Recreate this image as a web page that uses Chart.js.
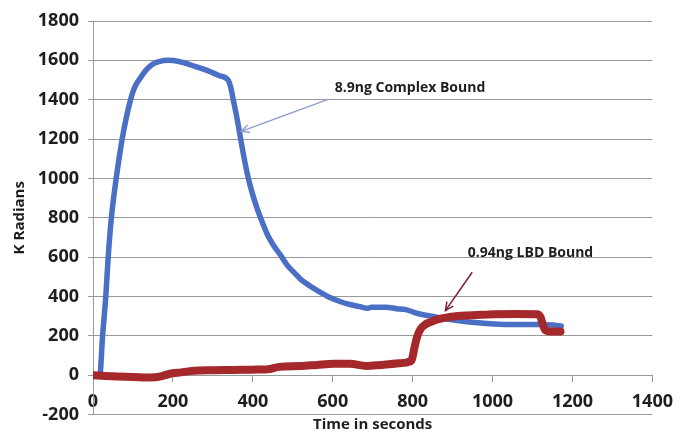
<!DOCTYPE html>
<html><head><meta charset="utf-8">
<style>html,body{margin:0;padding:0;background:#fff}#wrap{width:683px;height:437px}</style>
<script src="https://cdn.jsdelivr.net/npm/chart.js@4.4.1/dist/chart.umd.min.js"></script>
</head><body><div id="wrap"><canvas id="c" width="683" height="437"></canvas></div>
<script>
// ---- data ----
const xTickValues = [0, 200, 400, 600, 800, 1000, 1200, 1400];
const yTickValues = [-200, 0, 200, 400, 600, 800, 1000, 1200, 1400, 1600, 1800];

const complexTime = [0, 17, 24, 32, 38, 46, 58, 73, 84, 94, 100, 108, 120, 135, 149, 165, 190, 215, 240, 265, 290, 315, 338, 345, 351, 360, 367, 379, 390, 400, 412, 425, 437, 450, 470, 485, 503, 520, 544, 570, 593, 620, 643, 668, 688, 697, 715, 733, 760, 783, 805, 824, 848, 881, 920, 964, 1005, 1046, 1085, 1120, 1150, 1172];
const complexValues = [0, 0, 200, 400, 600, 800, 1000, 1200, 1315, 1400, 1440, 1478, 1515, 1555, 1580, 1594, 1600, 1594, 1580, 1563, 1545, 1523, 1500, 1460, 1400, 1310, 1230, 1095, 990, 915, 840, 770, 712, 665, 608, 562, 522, 487, 452, 420, 395, 373, 359, 348, 340, 345, 345, 345, 338, 333, 318, 308, 300, 286, 275, 266, 260, 257, 257, 257, 255, 250];

const lbdTime = [0, 30, 60, 100, 145, 170, 190, 220, 252, 300, 350, 400, 437, 466, 519, 560, 602, 643, 684, 720, 766, 791, 798, 805, 812, 820, 832, 845, 860, 890, 922, 960, 1005, 1060, 1111, 1120, 1126, 1132, 1145, 1170];
const lbdValues = [0, -4, -7, -9, -12, -6, 6, 14, 22, 25, 26, 28, 30, 42, 46, 52, 58, 58, 47, 52, 60, 68, 80, 145, 200, 235, 258, 270, 282, 295, 302, 306, 310, 311, 310, 295, 255, 228, 222, 222];

const seriesNames = ['8.9ng Complex Bound', '0.94ng LBD Bound'];
const xTitle = 'Time in seconds';
const yTitle = 'K Radians';

// annotation anchors in data units: [label point], [arrow start], [arrow end]
const complexNoteLabel = [605, 1460];
const complexNoteArrow = [[590, 1403], [371, 1239]];
const lbdNoteLabel = [938, 621];
const lbdNoteArrow = [[949, 523], [882, 328]];

// ---- build ----
const toPts = (t, v) => t.map((tt, i) => ({x: tt, y: v[i]}));
const FONT = "'Open Sans', 'DejaVu Sans', sans-serif";
const plain = v => String(v);

const annoPlugin = {
  id: 'annos',
  afterDatasetsDraw(chart) {
    const {ctx, scales: {x, y}} = chart;
    const notes = [
      {text: seriesNames[0], label: complexNoteLabel, arrow: complexNoteArrow, color: '#8d9fca'},
      {text: seriesNames[1], label: lbdNoteLabel, arrow: lbdNoteArrow, color: '#7d1f2c'}
    ];
    ctx.save();
    notes.forEach(n => {
      const sx = x.getPixelForValue(n.arrow[0][0]), sy = y.getPixelForValue(n.arrow[0][1]);
      const ex = x.getPixelForValue(n.arrow[1][0]), ey = y.getPixelForValue(n.arrow[1][1]);
      ctx.strokeStyle = n.color;
      ctx.lineWidth = 1.5;
      ctx.beginPath(); ctx.moveTo(sx, sy); ctx.lineTo(ex, ey); ctx.stroke();
      const ang = Math.atan2(sy - ey, sx - ex);
      const L = 9, w = 0.45;
      ctx.beginPath();
      ctx.moveTo(ex + L * Math.cos(ang + w), ey + L * Math.sin(ang + w));
      ctx.lineTo(ex, ey);
      ctx.lineTo(ex + L * Math.cos(ang - w), ey + L * Math.sin(ang - w));
      ctx.stroke();
      ctx.fillStyle = '#1e1e1e';
      ctx.font = "bold 14px " + FONT;
      ctx.textAlign = 'left';
      ctx.textBaseline = 'middle';
      ctx.fillText(n.text, x.getPixelForValue(n.label[0]), y.getPixelForValue(n.label[1]));
    });
    ctx.restore();
  }
};

new Chart(document.getElementById('c'), {
  type: 'line',
  data: {
    datasets: [
      {label: seriesNames[1], data: toPts(lbdTime, lbdValues), borderColor: '#a5282b', backgroundColor: '#a5282b',
       borderWidth: 8, pointRadius: 0, cubicInterpolationMode: 'monotone', order: 1, borderCapStyle: 'round', borderJoinStyle: 'round'},
      {label: seriesNames[0], data: toPts(complexTime, complexValues), borderColor: '#4a6fc4', backgroundColor: '#4a6fc4',
       borderWidth: 5.5, pointRadius: 0, cubicInterpolationMode: 'monotone', order: 2, borderCapStyle: 'round', borderJoinStyle: 'round'}
    ]
  },
  options: {
    responsive: false,
    animation: false,
    devicePixelRatio: 1,
    layout: {padding: {left: 0, right: 23, top: 21, bottom: 0}},
    plugins: {
      legend: {display: false},
      tooltip: {enabled: false},
      title: {display: true, position: 'bottom', text: xTitle, fullSize: false, color: '#1e1e1e',
              font: {family: FONT, size: 15, weight: 'bold'}, padding: {top: 1.5, bottom: 3}}
    },
    scales: {
      x: {
        type: 'linear', position: {y: 0}, min: 0, max: 1400,
        afterBuildTicks: s => { s.ticks = xTickValues.map(v => ({value: v})); },
        afterFit: s => { s.height = 0; },
        grid: {display: true, drawOnChartArea: false, drawTicks: true, tickLength: 6, color: '#999'},
        border: {display: true, color: '#999'},
        ticks: {color: '#1e1e1e', padding: 10, maxRotation: 0, callback: plain, font: {family: FONT, size: 18, weight: 'bold'}}
      },
      y: {
        type: 'linear', position: 'left', min: -200, max: 1800,
        afterBuildTicks: s => { s.ticks = yTickValues.map(v => ({value: v})); },
        afterFit: s => { s.width = 93; },
        grid: {color: '#999', tickLength: 5},
        border: {display: true, color: '#999'},
        ticks: {color: '#1e1e1e', padding: 9, callback: plain, font: {family: FONT, size: 18, weight: 'bold'}},
        title: {display: true, text: yTitle, color: '#1e1e1e', font: {family: FONT, size: 15, weight: 'bold'},
                padding: {top: 11, bottom: 0}}
      }
    }
  },
  plugins: [annoPlugin]
});
</script>
</body></html>
